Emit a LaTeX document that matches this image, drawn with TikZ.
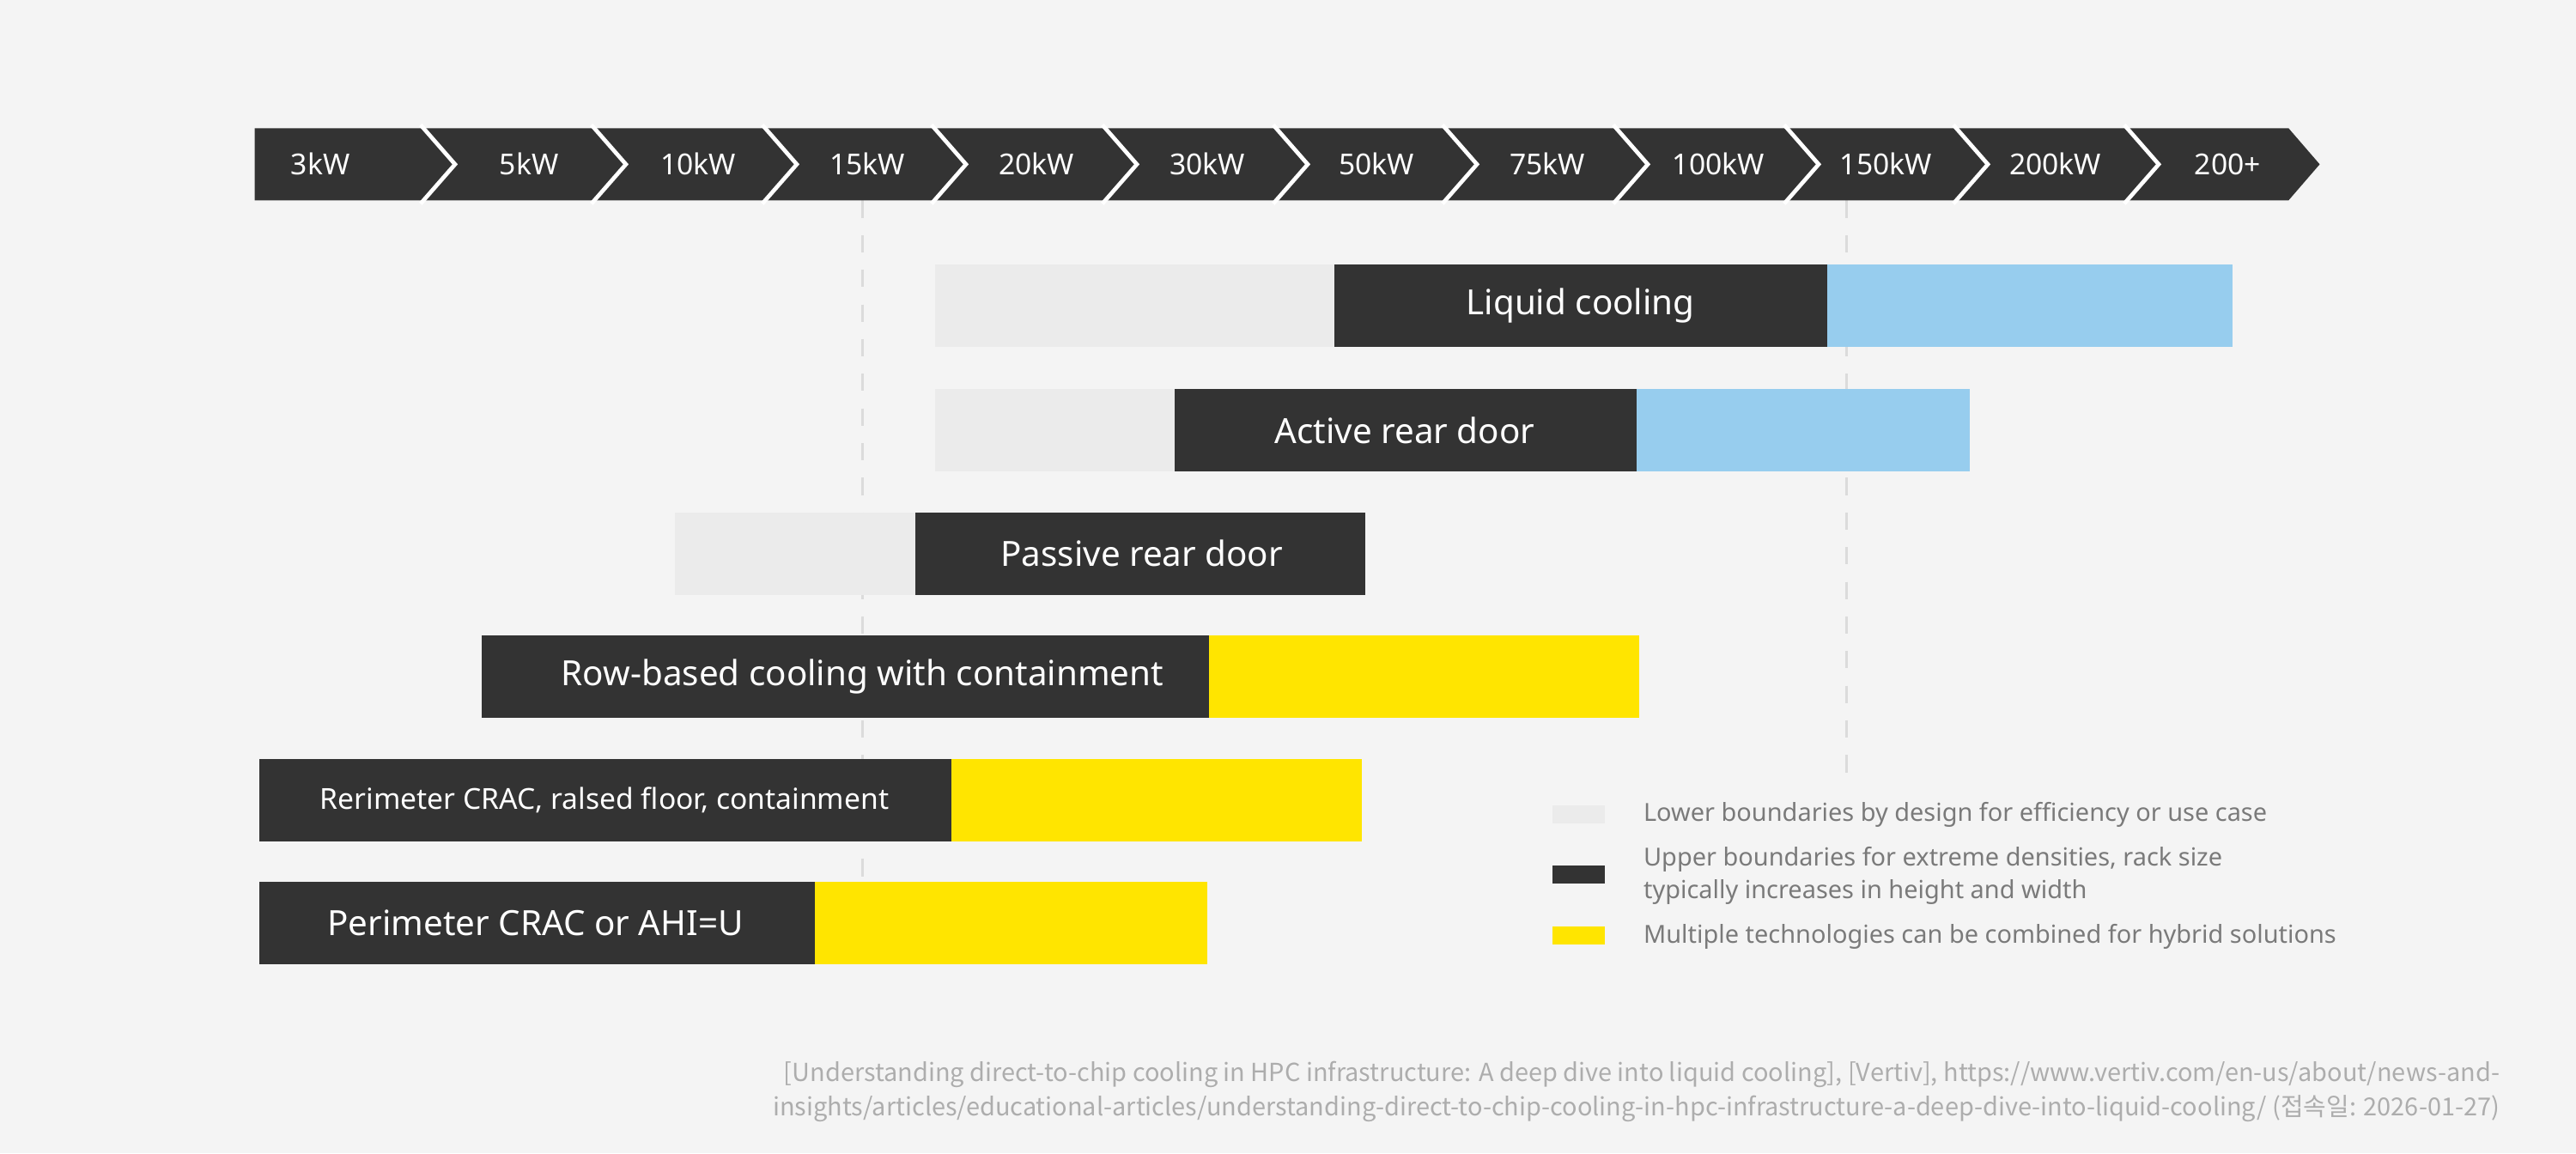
\documentclass[tikz,border=0pt]{standalone}
\usepackage{fontspec}
\setmainfont{Noto Sans}
\newfontfamily\cjkf{Noto Sans CJK KR}
\definecolor{bgc}{HTML}{F4F4F4}
\definecolor{dk}{HTML}{333333}
\definecolor{lg}{HTML}{EBEBEB}
\definecolor{bl}{HTML}{97CDEE}
\definecolor{yl}{HTML}{FFE500}
\definecolor{tx}{HTML}{7A7A7A}
\definecolor{ft}{HTML}{ADADAD}
\begin{document}
\begin{tikzpicture}[x=0.01cm,y=-0.01cm,
  chev/.style={text=white,font=\fontsize{5}{6}\selectfont},
  blab/.style={text=white,font=\bfseries\fontsize{6}{7}\selectfont},
  leg/.style={text=tx,anchor=west,font=\fontsize{4.3}{5.6}\selectfont,align=left},
  foot/.style={text=ft,anchor=east,font=\cjkf\fontsize{4.3}{5.5}\selectfont}]
\fill[bgc] (0,0) rectangle (1568,702);
\useasboundingbox (0,0) rectangle (1568,702);
% dashed guides
\draw[lg!85!gray,line width=0.5pt,dash pattern=on 3pt off 3pt] (525,122) -- (525,540);
\draw[lg!85!gray,line width=0.5pt,dash pattern=on 3pt off 3pt] (1124,122) -- (1124,478);
% chevron bar
\fill[dk] (155,78) -- (1393,78) -- (1412,100) -- (1393,122) -- (155,122) -- cycle;
\foreach \b in {256,360,464,567,671,775,878,982,1086,1189,1293}
  \draw[white,line width=0.7pt] (\b,76) -- (\b+21,100) -- (\b,124);
\foreach \x/\t [count=\i] in {195/3kW,322/5kW,425/10kW,528/15kW,631/20kW,735/30kW,838/50kW,942/75kW,1046/100kW,1148/150kW,1251/200kW,1356/200+}
  \node[chev] (c\i) at (\x,100) {\t};
% bars
\fill[lg] (569,161) rectangle (812,211);
\fill[dk] (812,161) rectangle (1112,211);
\fill[bl] (1112,161) rectangle (1359,211);
\node[blab] (liq) at (962,186) {Liquid cooling};
\fill[lg] (569,237) rectangle (715,287);
\fill[dk] (715,237) rectangle (996,287);
\fill[bl] (996,237) rectangle (1199,287);
\node[blab] (act) at (855,262) {Active rear door};
\fill[lg] (411,312) rectangle (557,362);
\fill[dk] (557,312) rectangle (831,362);
\node[blab] (pas) at (695,337) {Passive rear door};
\fill[dk] (293,387) rectangle (736,437);
\fill[yl] (736,387) rectangle (998,437);
\node[blab] (row) at (525,412) {Row-based cooling with containment};
\fill[dk] (158,462) rectangle (579,512);
\fill[yl] (579,462) rectangle (829,512);
\node[blab,font=\bfseries\fontsize{5}{6}\selectfont] (rer) at (368,487) {Rerimeter CRAC, ralsed floor, containment};
\fill[dk] (158,537) rectangle (496,587);
\fill[yl] (496,537) rectangle (735,587);
\node[blab] (per) at (326,562) {Perimeter CRAC or AHI=U};
% legend
\fill[lg] (945,490) rectangle (977,501);
\fill[dk] (945,527) rectangle (977,538);
\fill[yl] (945,564) rectangle (977,575);
\node[leg] (l1) at (988,496) {Lower boundaries by design for efficiency or use case};
\node[leg] (l2) at (988,533) {Upper boundaries for extreme densities, rack size\\typically increases in height and width};
\node[leg] (l3) at (988,570) {Multiple technologies can be combined for hybrid solutions};
% footer
\node[foot] (f1) at (1534,654) {[Understanding direct-to-chip cooling in HPC infrastructure: A deep dive into liquid cooling], [Vertiv], https://www.vertiv.com/en-us/about/news-and-};
\node[foot] (f2) at (1534,675) {insights/articles/educational-articles/understanding-direct-to-chip-cooling-in-hpc-infrastructure-a-deep-dive-into-liquid-cooling/ (접속일: 2026-01-27)};
\end{tikzpicture}
\end{document}
